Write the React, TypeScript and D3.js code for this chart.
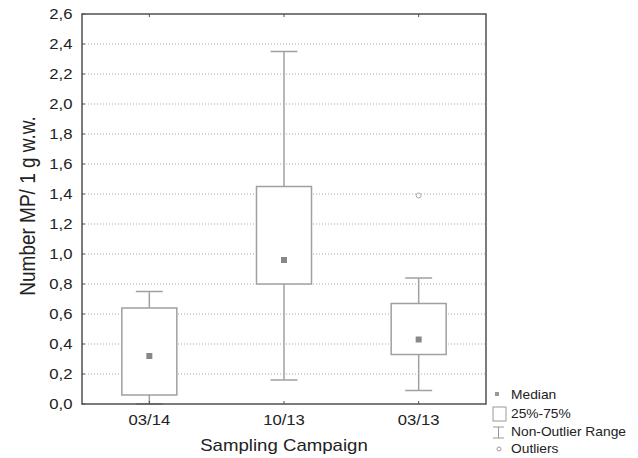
import React from 'react';
import * as d3 from 'd3';

const campaigns = ['03/14', '10/13', '03/13'];
const whiskerLow = [0.0, 0.16, 0.09];
const boxLow = [0.06, 0.8, 0.33];
const medians = [0.32, 0.96, 0.43];
const boxHigh = [0.64, 1.45, 0.67];
const whiskerHigh = [0.75, 2.35, 0.84];
const outliers = [{ campaign: '03/13', value: 1.39 }];
const yTicks = [0, 0.2, 0.4, 0.6, 0.8, 1.0, 1.2, 1.4, 1.6, 1.8, 2.0, 2.2, 2.4, 2.6];
const legendItems = ['Median', '25%-75%', 'Non-Outlier Range', 'Outliers'];

const W = 638;
const H = 458;
const m = { left: 82, right: 152, top: 14, bottom: 54 };
const font = 'Liberation Sans, Arial, sans-serif';
// the source picture is a bit wider than tall, text looks stretched sideways
const SX = 1.15;

function Txt({ x, y, size, anchor = 'start', children }: any) {
  return (
    <g transform={`translate(${x},${y}) scale(${SX},1)`}>
      <text dy="0.35em" textAnchor={anchor} fontSize={size} fill="#222">
        {children}
      </text>
    </g>
  );
}

export default function App() {
  const x = d3
    .scaleBand()
    .domain(campaigns)
    .range([m.left, W - m.right]);
  const y = d3
    .scaleLinear()
    .domain([0, 2.6])
    .range([H - m.bottom, m.top]);
  const fmt = (v: number) => d3.format('.1f')(v).replace('.', ',');
  const boxW = 55;
  const capW = 27;
  const boxColor = '#a0a0a0';
  const axisColor = '#505050';
  const x0 = m.left;
  const x1 = W - m.right;
  const y0 = y(0);
  const y1 = y(2.6);
  const legendY = [395, 414, 432, 449];

  return (
    <svg
      width={W}
      height={H}
      style={{ position: 'absolute', left: 0, top: 0, background: '#fff' }}
      fontFamily={font}
    >
      {/* grid */}
      {yTicks
        .filter((t) => t > 0 && t < 2.6)
        .map((t) => (
          <line
            key={'g' + t}
            x1={x0}
            x2={x1}
            y1={y(t)}
            y2={y(t)}
            stroke="#aaa"
            strokeWidth={1}
            strokeDasharray="1,2"
          />
        ))}

      {/* boxes */}
      {campaigns.map((c, i) => {
        const cx = x(c)! + x.bandwidth() / 2;
        return (
          <g key={c}>
            <line x1={cx} x2={cx} y1={y(whiskerHigh[i])} y2={y(boxHigh[i])} stroke={boxColor} strokeWidth={1.5} />
            <line x1={cx} x2={cx} y1={y(boxLow[i])} y2={y(whiskerLow[i])} stroke={boxColor} strokeWidth={1.5} />
            <line x1={cx - capW / 2} x2={cx + capW / 2} y1={y(whiskerHigh[i])} y2={y(whiskerHigh[i])} stroke={boxColor} strokeWidth={1.5} />
            <line x1={cx - capW / 2} x2={cx + capW / 2} y1={y(whiskerLow[i])} y2={y(whiskerLow[i])} stroke={boxColor} strokeWidth={1.5} />
            <rect
              x={cx - boxW / 2}
              y={y(boxHigh[i])}
              width={boxW}
              height={y(boxLow[i]) - y(boxHigh[i])}
              fill="#fff"
              stroke={boxColor}
              strokeWidth={1.5}
            />
            <rect x={cx - 3} y={y(medians[i]) - 3} width={6} height={6} fill="#888" />
          </g>
        );
      })}
      {outliers.map((o) => (
        <circle
          key={o.campaign}
          cx={x(o.campaign)! + x.bandwidth() / 2}
          cy={y(o.value)}
          r={2.5}
          fill="#fff"
          stroke="#aaa"
          strokeWidth={1}
        />
      ))}

      {/* frame */}
      <rect x={x0} y={y1} width={x1 - x0} height={y0 - y1} fill="none" stroke={axisColor} strokeWidth={1.5} />
      {yTicks.map((t) => (
        <g key={'t' + t}>
          <line x1={x0} x2={x0 + 3} y1={y(t)} y2={y(t)} stroke={axisColor} strokeWidth={1} />
          <Txt x={72.5} y={y(t)} size={14.5} anchor="end">
            {fmt(t)}
          </Txt>
        </g>
      ))}
      {campaigns.map((c) => {
        const cx = x(c)! + x.bandwidth() / 2;
        return (
          <g key={'x' + c}>
            <line x1={cx} x2={cx} y1={y0} y2={y0 - 3} stroke={axisColor} />
            <line x1={cx} x2={cx} y1={y1} y2={y1 + 3} stroke={axisColor} />
            <Txt x={cx} y={y0 + 16} size={14.5} anchor="middle">
              {c}
            </Txt>
          </g>
        );
      })}

      {/* axis titles */}
      <Txt x={(x0 + x1) / 2} y={445} size={16.2} anchor="middle">
        Sampling Campaign
      </Txt>
      <g transform={`translate(27,206) scale(${SX},1) rotate(-90)`}>
        <text textAnchor="middle" dy="0.35em" fontSize={19} fill="#222">
          Number MP/ 1 g w.w.
        </text>
      </g>

      {/* legend */}
      <rect x={495} y={392} width={4} height={4} fill="#999" />
      <rect x={493} y={407} width={13} height={14} fill="#fff" stroke="#999" />
      <path d="M493,427 h11 M498.5,427 v11 M493,438 h11" stroke="#999" fill="none" />
      <circle cx={499} cy={449} r={2} fill="#fff" stroke="#999" />
      {legendItems.map((l, i) => (
        <Txt key={l} x={511} y={legendY[i]} size={12}>
          {l}
        </Txt>
      ))}
    </svg>
  );
}
